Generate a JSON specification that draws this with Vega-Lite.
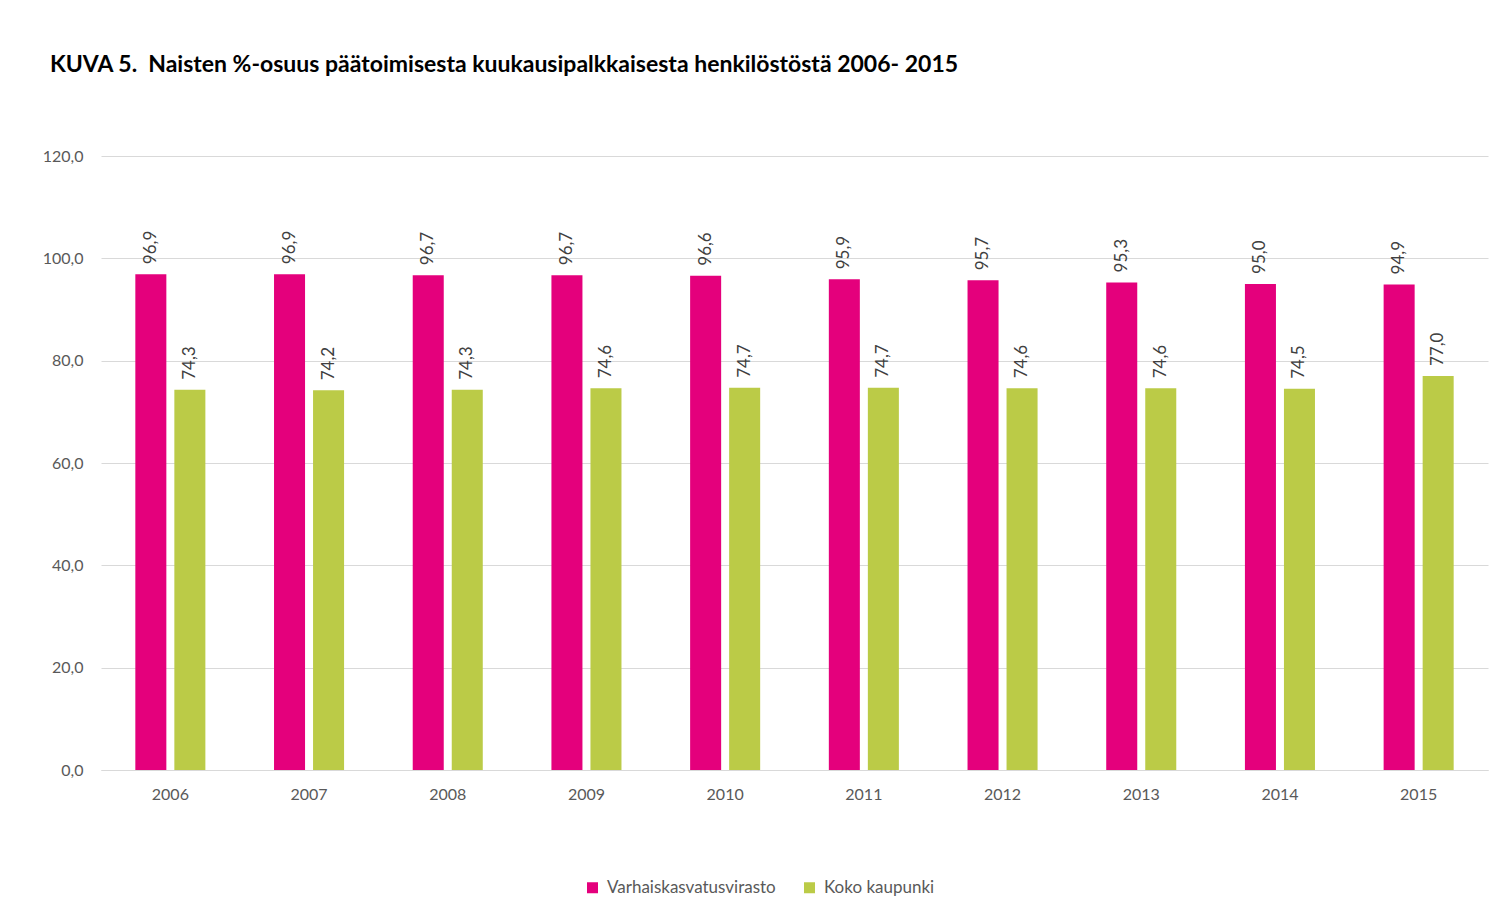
{
  "$schema": "https://vega.github.io/schema/vega-lite/v6.json",
  "width": 1387,
  "height": 614,
  "autosize": {"type": "none"},
  "padding": {"left": 101, "top": 156, "right": 22, "bottom": 149},
  "background": "white",
  "title": {
    "text": "KUVA 5.\u00a0 Naisten %-osuus päätoimisesta kuukausipalkkaisesta henkilöstöstä 2006- 2015",
    "anchor": "start",
    "frame": "group",
    "dx": -51,
    "offset": 71,
    "font": "Lato",
    "fontSize": 23,
    "fontWeight": "bold",
    "color": "#000000"
  },
  "data": {
    "values": [
      {"vuosi": "2006", "sarja": "Varhaiskasvatusvirasto", "arvo": 96.9},
      {"vuosi": "2006", "sarja": "Koko kaupunki", "arvo": 74.3},
      {"vuosi": "2007", "sarja": "Varhaiskasvatusvirasto", "arvo": 96.9},
      {"vuosi": "2007", "sarja": "Koko kaupunki", "arvo": 74.2},
      {"vuosi": "2008", "sarja": "Varhaiskasvatusvirasto", "arvo": 96.7},
      {"vuosi": "2008", "sarja": "Koko kaupunki", "arvo": 74.3},
      {"vuosi": "2009", "sarja": "Varhaiskasvatusvirasto", "arvo": 96.7},
      {"vuosi": "2009", "sarja": "Koko kaupunki", "arvo": 74.6},
      {"vuosi": "2010", "sarja": "Varhaiskasvatusvirasto", "arvo": 96.6},
      {"vuosi": "2010", "sarja": "Koko kaupunki", "arvo": 74.7},
      {"vuosi": "2011", "sarja": "Varhaiskasvatusvirasto", "arvo": 95.9},
      {"vuosi": "2011", "sarja": "Koko kaupunki", "arvo": 74.7},
      {"vuosi": "2012", "sarja": "Varhaiskasvatusvirasto", "arvo": 95.7},
      {"vuosi": "2012", "sarja": "Koko kaupunki", "arvo": 74.6},
      {"vuosi": "2013", "sarja": "Varhaiskasvatusvirasto", "arvo": 95.3},
      {"vuosi": "2013", "sarja": "Koko kaupunki", "arvo": 74.6},
      {"vuosi": "2014", "sarja": "Varhaiskasvatusvirasto", "arvo": 95.0},
      {"vuosi": "2014", "sarja": "Koko kaupunki", "arvo": 74.5},
      {"vuosi": "2015", "sarja": "Varhaiskasvatusvirasto", "arvo": 94.9},
      {"vuosi": "2015", "sarja": "Koko kaupunki", "arvo": 77.0}
    ]
  },
  "encoding": {
    "x": {
      "field": "vuosi",
      "type": "nominal",
      "scale": {"paddingInner": 0.495, "paddingOuter": 0.2475},
      "axis": {
        "title": null,
        "labelAngle": 0,
        "labelFont": "Lato",
        "labelFontSize": 16,
        "labelColor": "#595959",
        "labelPadding": 16,
        "ticks": false,
        "domainColor": "#d9d9d9",
        "domainWidth": 1,
        "grid": false
      }
    },
    "xOffset": {
      "field": "sarja",
      "type": "nominal",
      "sort": ["Varhaiskasvatusvirasto", "Koko kaupunki"],
      "scale": {"paddingInner": 0.205, "paddingOuter": 0}
    },
    "y": {
      "field": "arvo",
      "type": "quantitative",
      "scale": {"domain": [0, 120], "nice": false},
      "axis": {
        "title": null,
        "values": [0, 20, 40, 60, 80, 100, 120],
        "format": ".1f",
        "labelFont": "Lato",
        "labelFontSize": 16,
        "labelColor": "#595959",
        "labelPadding": 18,
        "ticks": false,
        "domain": false,
        "gridColor": "#d9d9d9",
        "gridWidth": 1
      }
    }
  },
  "layer": [
    {
      "mark": {"type": "bar"},
      "encoding": {
        "color": {
          "field": "sarja",
          "type": "nominal",
          "sort": ["Varhaiskasvatusvirasto", "Koko kaupunki"],
          "scale": {"domain": ["Varhaiskasvatusvirasto", "Koko kaupunki"], "range": ["#E4007C", "#BBCB47"]},
          "legend": {
            "title": null,
            "orient": "none",
            "direction": "horizontal",
            "legendX": 483,
            "legendY": 723,
            "symbolType": "square",
            "symbolSize": 121,
            "symbolStrokeWidth": 0,
            "labelFont": "Lato",
            "labelFontSize": 17,
            "labelColor": "#595959",
            "labelOffset": 6,
            "labelLimit": 400,
            "columnPadding": 25
          }
        }
      }
    },
    {
      "mark": {
        "type": "text",
        "angle": 270,
        "align": "left",
        "baseline": "middle",
        "dx": 10,
        "font": "Lato",
        "fontSize": 17,
        "color": "#404040"
      },
      "encoding": {
        "text": {"field": "arvo", "type": "quantitative", "format": ".1f"}
      }
    }
  ],
  "config": {
    "locale": {
      "number": {"decimal": ",", "thousands": " ", "grouping": [3], "currency": ["", " €"]}
    },
    "view": {"stroke": null}
  }
}
